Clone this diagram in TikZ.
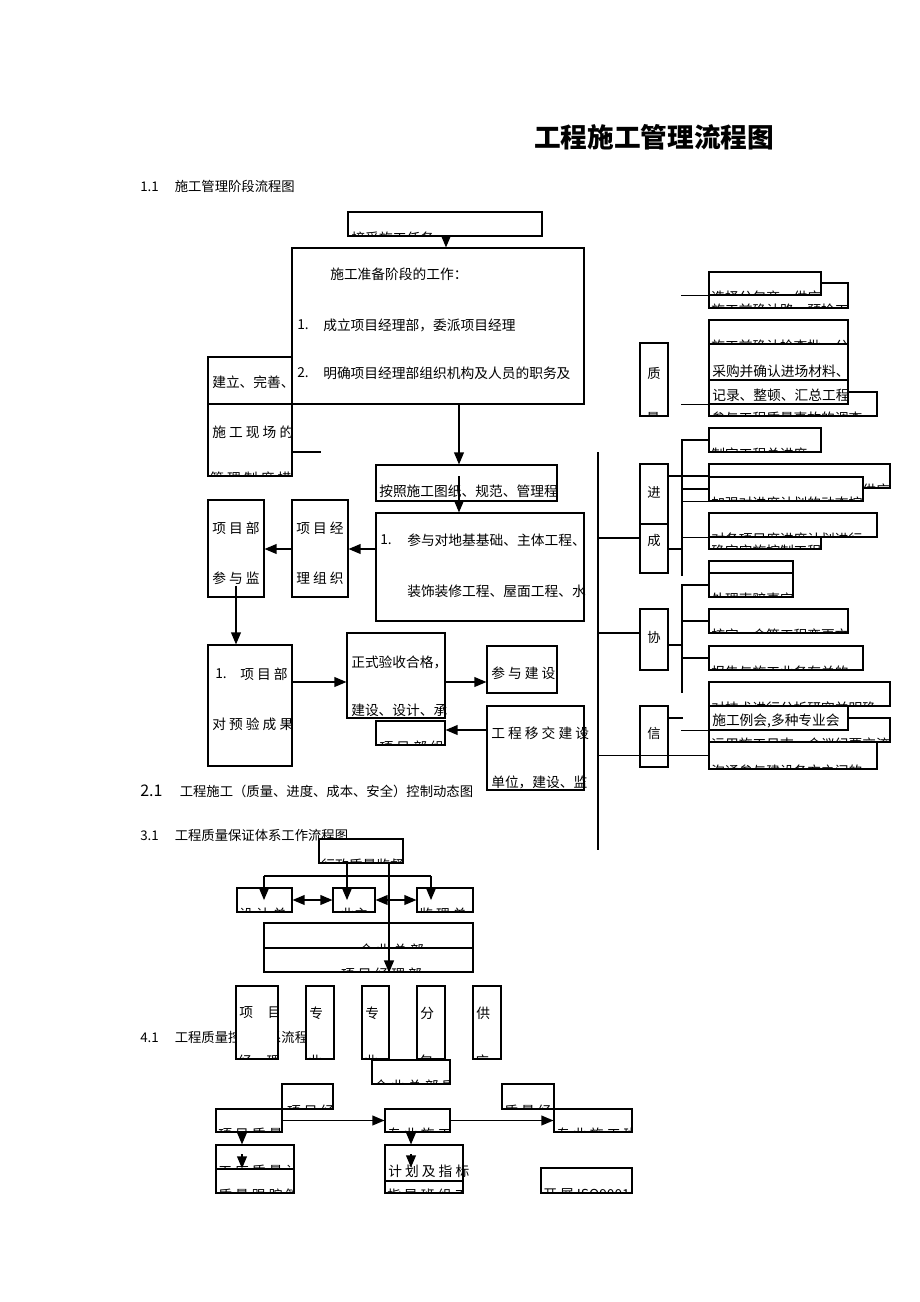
\documentclass[tikz,border=0pt]{standalone}
\usepackage{fontspec}
\setmainfont{Noto Sans CJK SC}
\usetikzlibrary{arrows,fit,calc}

% text that runs past the lower edge of its box
\newcommand{\cuttext}[3][2pt]{%
  \begin{scope}
    \clip (#2.south west) rectangle (#2.north east);
    \node[txt] at ([xshift=#1,yshift=-1pt]#2.south west) {#3};
  \end{scope}}

\begin{document}
\begin{tikzpicture}[x=0.75pt,y=-0.75pt,
  box/.style={draw,fill=white,inner sep=0pt,line width=0.9pt},
  txt/.style={inner sep=0pt,anchor=west,font=\fontsize{10.3}{12}\selectfont},
  head/.style={inner sep=0pt,anchor=west,font=\fontsize{10}{12}\selectfont},
  ln/.style={line width=1pt},
  arr/.style={-triangle 45,line width=1.1pt},
  dbl/.style={triangle 45-triangle 45,line width=1.1pt}]
    \useasboundingbox (0,0) rectangle (920,1302);

    \node[font=\fontsize{20}{24}\selectfont\bfseries] (title) at (654,137) {工程施工管理流程图};
    \node[head] (h1) at (140,186) {1.1\hspace{12pt}施工管理阶段流程图};

    % 1.1
    \node[box,fit={(208,357) (292,404)}] (sitea) {};
    \node[txt] at (212,382) {建立、完善、};
    \node[box,fit={(208,404) (292,476)}] (siteb) {};
    \node[txt] at (212,432) {施 工 现 场 的};
    \cuttext{siteb}{管 理 制 度 措}
    \draw[ln] (siteb.east |- 0,452) -- ++(28,0);

    \node[box,fit={(348,212) (542,236)}] (task) {};
    \cuttext[3pt]{task}{接受施工任务}
    \node[box,fit={(292,248) (584,404)}] (prep) {};
    \node[txt] at (330,274) {施工准备阶段的工作：};
    \node[txt] at (297,325) {1.};
    \node[txt] at (323,325) {成立项目经理部，委派项目经理};
    \node[txt] at (297,373) {2.};
    \node[txt] at (323,373) {明确项目经理部组织机构及人员的职务及};
    \draw[arr] (task.south -| 446,0) -- (prep.north -| 446,0);

    \node[box,fit={(376,465) (557,501)}] (rule) {};
    \node[txt] at (379,491) {按照施工图纸、规范、管理程};
    \draw[arr] (prep.south -| 459,0) -- (rule.north -| 459,0);
    \node[box,fit={(376,513) (584,621)}] (work) {};
    \node[txt] at (380,540) {1.};
    \node[txt] at (407,540) {参与对地基基础、主体工程、};
    \node[txt] at (407,591) {装饰装修工程、屋面工程、水};
    \draw[arr] ($(rule.north -| 459,0)+(0,12)$) -- (work.north -| 459,0);

    \node[box,fit={(292,500) (348,597)}] (org) {};
    \node[txt] at (296,528) {项 目 经};
    \node[txt] at (296,578) {理 组 织};
    \node[box,fit={(208,500) (264,597)}] (dept) {};
    \node[txt] at (212,528) {项 目 部};
    \node[txt] at (212,578) {参 与 监};
    \draw[arr] (work.west |- 0,549) -- (org.east |- 0,549);
    \draw[arr] (org.west |- 0,549) -- (dept.east |- 0,549);

    \node[box,fit={(208,645) (292,766)}] (check) {};
    \node[txt] at (215,674) {1.};
    \node[txt] at (240,674) {项 目 部};
    \node[txt] at (212,724) {对 预 验 成 果};
    \draw[arr] ($(dept.south -| 236,0)+(0,-12)$) -- (check.north -| 236,0);

    \node[box,fit={(347,633) (445,718)}] (accept) {};
    \node[txt] at (351,662) {正式验收合格，};
    \node[txt] at (351,710) {建设、设计、承};
    \node[box,fit={(487,646) (557,693)}] (join) {};
    \node[txt] at (491,673) {参 与 建 设};
    \draw[arr] (check.east |- 0,682) -- (accept.west |- 0,682);
    \draw[arr] (accept.east |- 0,682) -- (join.west |- 0,682);

    \node[head] (h2) at (140,791) {{\fontsize{12}{14}\selectfont 2.1}\hspace{13pt}工程施工（质量、进度、成本、安全）控制动态图};
    \node[box,fit={(487,706) (584,790)}] (hand) {};
    \node[txt] at (491,733) {工 程 移 交 建 设};
    \node[txt] at (491,782) {单位，建设、监};
    \node[box,fit={(376,721) (445,745)}] (team) {};
    \cuttext[3pt]{team}{项 目 部 组 织}
    \draw[arr] (hand.west |- 0,730) -- (team.east |- 0,730);

    % 2.1 control
    \coordinate (bt) at (598,452);
    \coordinate (bb) at (598,850);
    \draw[ln] (bt) -- (bb);

    \node[box,fit={(640,343) (668,416)}] (qual) {};
    \node at (qual |- 0,373) {质};
    \cuttext[5pt]{qual}{量}
    \node[box,fit={(640,464) (668,524)}] (sched) {};
    \node at (sched |- 0,492) {进};
    \node[box,fit={(640,524) (668,573)}] (cost) {};
    \node at (cost |- 0,540) {成};
    \node[box,fit={(640,609) (668,670)}] (coord) {};
    \node at (coord |- 0,637) {协};
    \node[box,fit={(640,706) (668,767)}] (info) {};
    \node at (info |- 0,733) {信};

    \node[box,fit={(709,283) (848,308)}] (r2) {};
    \cuttext{r2}{施工前确认路、预检工}
    \node[box,fit={(709,272) (821,295)}] (r1) {};
    \cuttext{r1}{选择分包商、供应商}
    \node[box,fit={(709,320) (848,344)}] (r3) {};
    \cuttext{r3}{施工前确认检查批、分}
    \node[box,fit={(709,344) (848,380)}] (r4) {};
    \node[txt] at (712,371) {采购并确认进场材料、};
    \node[box,fit={(709,392) (877,416)}] (r6) {};
    \cuttext{r6}{参与工程质量事故的调查}
    \node[box,fit={(709,380) (848,404)}] (r5) {};
    \node[txt] at (712,395) {记录、整顿、汇总工程};
    \node[box,fit={(709,428) (821,452)}] (r7) {};
    \cuttext{r7}{制定工程总进度}
    \node[box,fit={(709,464) (890,488)}] (r8) {};
    \cuttext{r8}{及时协调材料、设备进场供应}
    \node[box,fit={(709,477) (863,501)}] (r9) {};
    \cuttext{r9}{加强对进度计划的动态控}
    \node[box,fit={(709,513) (877,537)}] (r10) {};
    \cuttext{r10}{对各项目度进度计划进行}
    \node[box,fit={(709,537) (821,549)}] (r11) {};
    \cuttext{r11}{确定实施控制工程}
    \node[box,fit={(709,561) (793,573)}] (r12) {};
    \node[box,fit={(709,573) (793,597)}] (r13) {};
    \cuttext{r13}{处理索赔事宜}
    \node[box,fit={(709,609) (848,633)}] (r14) {};
    \cuttext{r14}{核定、会签工程变更文件}
    \node[box,fit={(709,646) (863,670)}] (r15) {};
    \cuttext{r15}{报告与施工业务有关的}
    \node[box,fit={(709,682) (890,706)}] (r16) {};
    \cuttext{r16}{对技术进行分析研究并明确}
    \node[box,fit={(709,718) (890,742)}] (r18) {};
    \cuttext{r18}{运用施工日志、会议纪要交流}
    \node[box,fit={(709,706) (848,730)}] (r17) {};
    \node[txt] at (712,721) {施工例会,多种专业会};
    \node[box,fit={(709,742) (877,769)}] (r19) {};
    \cuttext{r19}{沟通参与建设各方之间的}

    \coordinate (sb2) at (682,576);
    \coordinate (sb3) at (682,693);
    \draw[ln] (r1.south west) -- ++(-27,0);
    \draw[ln] (r5.south west) -- ++(-27,0);
    \draw[ln] (r7.west) -| (sb2);
    \draw[ln] (sched.east |- r8.west) -- (r8.west);
    \draw[ln] (r9.west -| sb2) -- (r9.west);
    \draw[ln] (r9.south west -| sb2) -- (r9.south west);
    \draw[ln] (r10.south west -| sb2) -- (r10.south west);
    \draw[ln] (cost.east |- 0,549) -- (sb2 |- 0,549);
    \draw[ln] (r13.west) -| (sb3);
    \draw[ln] (r14.west -| sb3) -- (r14.west);
    \draw[ln] (r15.west -| sb3) -- (r15.west);
    \draw[ln] (coord.east |- 0,645) -- (sb3 |- 0,645);
    \draw[ln] (info.east |- 0,718) -- ++(14,0);
    \draw[ln] (r17.south west) -- ++(-27,0);
    \draw[ln] (bt |- 0,538) -- (cost.west |- 0,538);
    \draw[ln] (bt |- 0,633) -- (coord.west |- 0,633);
    \draw[ln] (bt |- r19.west) -- (r19.west);

    % 3.1
    \node[head] (h3) at (140,835) {3.1\hspace{12pt}工程质量保证体系工作流程图};
    \node[box,fit={(319,839) (403,863)}] (gov) {};
    \cuttext{gov}{行政质量监督}
    \node[box,fit={(237,888) (292,912)}] (design) {};
    \cuttext{design}{设 计 单 位}
    \node[box,fit={(333,888) (375,912)}] (owner) {};
    \cuttext[6pt]{owner}{业主}
    \node[box,fit={(417,888) (473,912)}] (super) {};
    \cuttext{super}{监 理 单 位}
    \node[box,fit={(264,923) (473,948)}] (hq) {};
    \cuttext[72pt]{hq}{企 业 总 部}
    \node[box,fit={(264,948) (473,972)}] (pm) {};
    \cuttext[58pt]{pm}{项 目 经 理 部}

    \coordinate (barl) at (264,876);
    \coordinate (barr) at (431,876);
    \draw[ln] (barl) -- (barr);
    \draw[arr] (barl) -- (design.center -| barl);
    \draw[arr] (barr) -- (super.center -| barr);
    \draw[arr] (gov.south -| 347,0) -- (owner.center -| 347,0);
    \draw[arr] (gov.south -| 389,0) -- (pm.south -| 389,0);
    \draw[dbl] (design.east) -- (owner.west);
    \draw[dbl] (owner.east) -- (super.west);

    % 4.1
    \node[head] (h4) at (140,1037) {4.1\hspace{12pt}工程质量控制体系流程图};
    \node[box,fit={(236,986) (278,1059)}] (p1) {};
    \node[txt] at (239,1013) {项\hspace{11pt}目};
    \cuttext{p1}{经\hspace{11pt}理}
    \node[box,fit={(306,986) (334,1059)}] (p2) {};
    \node[txt] at (309,1013) {专};
    \cuttext{p2}{业}
    \node[box,fit={(362,986) (389,1059)}] (p3) {};
    \node[txt] at (365,1013) {专};
    \cuttext{p3}{业}
    \node[box,fit={(417,986) (445,1059)}] (p4) {};
    \node[txt] at (420,1013) {分};
    \cuttext{p4}{包}
    \node[box,fit={(473,986) (501,1059)}] (p5) {};
    \node[txt] at (476,1013) {供};
    \cuttext{p5}{应}

    \node[box,fit={(372,1060) (450,1084)}] (hqq) {};
    \cuttext{hqq}{企 业 总 部 质}
    \node[box,fit={(282,1084) (333,1109)}] (pmq) {};
    \cuttext[4pt]{pmq}{项 目 经}
    \node[box,fit={(502,1084) (554,1109)}] (qm) {};
    \cuttext{qm}{质 量 经}
    \node[box,fit={(216,1109) (282,1132)}] (pq) {};
    \cuttext{pq}{项 目 质 量}
    \node[box,fit={(385,1109) (450,1132)}] (sp) {};
    \cuttext{sp}{专 业 施 工}
    \node[box,fit={(554,1109) (632,1132)}] (spt) {};
    \cuttext{spt}{专 业 施 工 班}
    \draw[arr] (pq.east) -- (sp.west);
    \draw[arr] (sp.east) -- (spt.west);

    \node[box,fit={(216,1145) (294,1169)}] (wq) {};
    \cuttext{wq}{工 序 质 量 计}
    \node[box,fit={(385,1145) (463,1181)}] (plan) {};
    \node[txt] at (388,1171) {计 划 及 指 标};
    \node[box,fit={(216,1169) (294,1193)}] (wf) {};
    \cuttext{wf}{质 量 跟 踪 管}
    \node[box,fit={(385,1181) (463,1193)}] (guide) {};
    \cuttext{guide}{指 导 班 组 工}
    \node[box,fit={(541,1168) (632,1193)}] (iso) {};
    \cuttext{iso}{开 展 ISO9001}
    \draw[arr] (pq.south -| 242,0) -- (wq.north -| 242,0);
    \draw[arr] (sp.south -| 411,0) -- (plan.north -| 411,0);
    \draw[arr] ($(wq.north -| 242,0)+(0,10)$) -- (wf.north -| 242,0);
    \draw[arr] ($(plan.north -| 411,0)+(0,10)$) -- ($(plan.north -| 411,0)+(0,23)$);
\end{tikzpicture}
\end{document}
